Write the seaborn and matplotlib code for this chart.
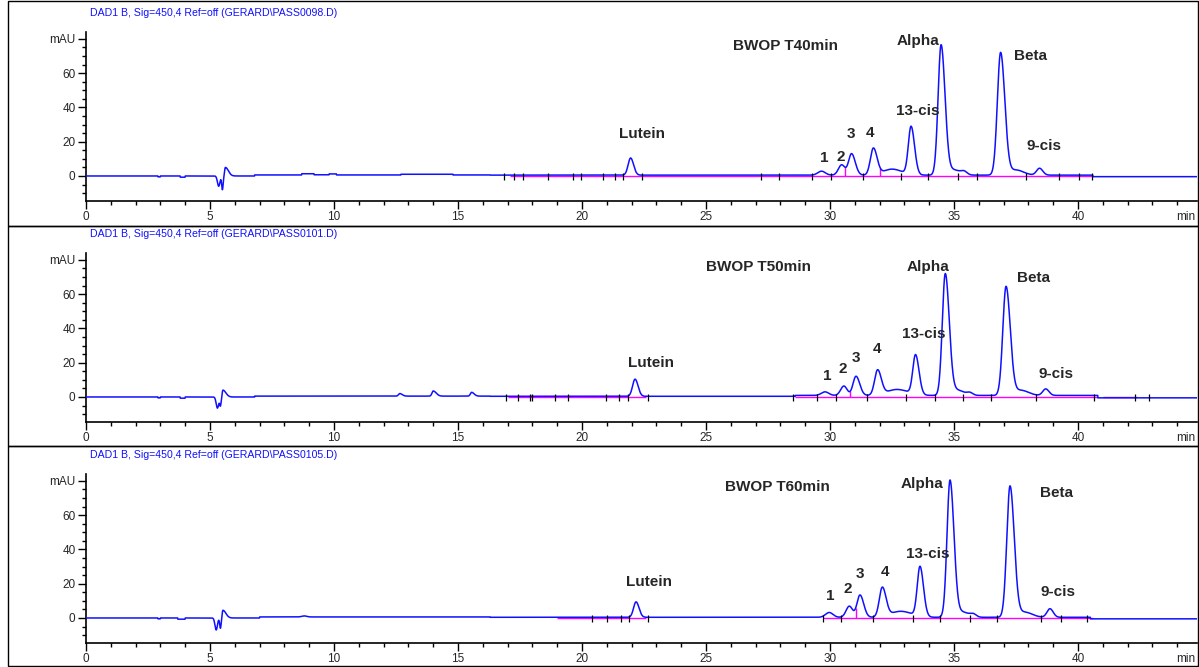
import numpy as np
import pandas as pd
import matplotlib
matplotlib.use("Agg")
import matplotlib.pyplot as plt
from matplotlib.patches import Rectangle
from matplotlib.ticker import MultipleLocator
import seaborn as sns

# ---- data ----
headers = [
    r"DAD1 B, Sig=450,4 Ref=off (GERARD\PASS0098.D)",
    r"DAD1 B, Sig=450,4 Ref=off (GERARD\PASS0101.D)",
    r"DAD1 B, Sig=450,4 Ref=off (GERARD\PASS0105.D)",
]
titles = ["BWOP T40min", "BWOP T50min", "BWOP T60min"]

# peaks: retention time (min), height (mAU), left / right sigma (min)
p1_rt = [5.35, 5.50, 5.62, 21.96, 29.66, 30.47, 30.87, 31.75, 32.50, 33.27, 34.48, 35.00, 35.41, 36.88, 37.50, 38.45]
p1_h = [-6.0, -8.0, 5.0, 10.0, 2.3, 6.0, 12.5, 15.5, 3.5, 28.0, 76.0, 3.0, 1.8, 71.5, 3.0, 4.0]
p1_sl = [0.05, 0.03, 0.03, 0.10, 0.15, 0.13, 0.12, 0.12, 0.35, 0.11, 0.12, 0.20, 0.12, 0.13, 0.25, 0.12]
p1_sr = [0.05, 0.03, 0.12, 0.12, 0.15, 0.13, 0.15, 0.15, 0.40, 0.14, 0.16, 0.25, 0.12, 0.17, 0.30, 0.13]

p2_rt = [5.30, 5.42, 5.52, 12.65, 14.0, 15.55, 22.14, 29.80, 30.56, 31.05, 31.92, 32.70, 33.45, 34.65, 35.15, 35.64, 37.10, 37.70, 38.70]
p2_h = [-6.5, -5.0, 4.0, 1.5, 3.0, 2.2, 10.0, 2.1, 5.5, 11.2, 14.5, 3.5, 23.0, 71.0, 3.0, 1.5, 63.5, 3.0, 3.8]
p2_sl = [0.05, 0.03, 0.03, 0.05, 0.05, 0.05, 0.10, 0.15, 0.13, 0.12, 0.12, 0.40, 0.11, 0.12, 0.20, 0.12, 0.13, 0.25, 0.12]
p2_sr = [0.05, 0.03, 0.12, 0.10, 0.12, 0.10, 0.12, 0.15, 0.13, 0.15, 0.15, 0.45, 0.14, 0.16, 0.25, 0.12, 0.17, 0.30, 0.13]

p3_rt = [5.25, 5.42, 5.52, 8.80, 22.18, 29.97, 30.78, 31.21, 32.11, 32.85, 33.63, 34.84, 35.35, 35.78, 37.26, 37.85, 38.87]
p3_h = [-7.0, -6.0, 4.5, 0.6, 9.0, 2.8, 6.5, 13.0, 17.0, 3.5, 29.0, 80.0, 3.0, 1.6, 76.5, 3.0, 5.0]
p3_sl = [0.05, 0.03, 0.03, 0.10, 0.10, 0.15, 0.13, 0.12, 0.12, 0.40, 0.11, 0.12, 0.20, 0.12, 0.13, 0.25, 0.12]
p3_sr = [0.05, 0.03, 0.12, 0.10, 0.12, 0.15, 0.13, 0.15, 0.15, 0.45, 0.14, 0.16, 0.25, 0.12, 0.17, 0.30, 0.13]

# baseline drift as steps: start time, level (mAU)
b1_t = [0, 2.9, 3.0, 3.8, 4.0, 6.8, 8.7, 9.2, 9.8, 10.1, 12.7, 14.8, 16.3, 40.6]
b1_v = [0, -0.5, 0, -0.7, 0, 0.6, 1.3, 0.7, 1.2, 0.6, 1.0, 0.6, 0.5, -0.4]
b2_t = [0, 2.9, 3.0, 3.8, 4.0, 6.8, 16.3, 28.6, 40.8]
b2_v = [0, -0.5, 0, -0.7, 0, 0.5, 0.4, 0.9, -0.5]
b3_t = [0, 2.9, 3.0, 3.7, 4.0, 7.0, 16.3, 40.5]
b3_v = [0, -0.5, 0, -0.7, 0, 0.6, 0.4, -0.5]

# integration baselines (magenta) and peak event marks
m1_seg = [(17.1, 40.6)]
m2_seg = [(17.0, 22.6), (28.6, 40.8), (41.0, 42.4)]
m3_seg = [(19.0, 22.6), (29.7, 40.6)]
e1_t = [16.85, 17.27, 17.63, 18.64, 19.62, 19.98, 20.86, 21.33, 21.67, 22.41, 27.2, 27.96,
        29.27, 30.03, 31.32, 32.87, 33.97, 35.15, 35.92, 37.9, 39.25, 40.06, 40.56]
e2_t = [16.94, 17.43, 17.9, 18.0, 18.9, 19.42, 20.96, 21.51, 21.86, 22.66, 28.5,
        29.46, 30.24, 31.5, 33.06, 34.23, 35.37, 36.51, 38.3, 40.64, 42.3, 42.86]
e3_t = [20.4, 21.0, 21.59, 21.91, 22.66, 29.7, 30.45, 31.74, 33.35, 34.43, 35.64,
        36.75, 38.5, 39.33, 40.35]
d1_t = [30.6, 32.02]
d2_t = [30.82]
d3_t = [31.04]

# peak labels
names = ["Lutein", "1", "2", "3", "4", "13-cis", "Alpha", "Beta", "9-cis"]
lab1_t = [22.4, 29.76, 30.44, 30.85, 31.6, 33.55, 33.55, 38.1, 38.63]
lab1_y = [24.5, 10.5, 11.0, 24.5, 25.0, 38.0, 79.0, 70.0, 17.5]
lab2_t = [22.8, 29.9, 30.5, 31.05, 31.9, 33.8, 33.95, 38.2, 39.1]
lab2_y = [19.8, 12.2, 16.3, 22.7, 28.0, 36.7, 75.8, 69.3, 13.4]
lab3_t = [22.7, 30.0, 30.7, 31.2, 32.2, 33.95, 33.7, 39.15, 39.2]
lab3_y = [21.0, 12.8, 16.9, 25.6, 26.8, 37.3, 78.0, 72.8, 15.0]
title_t = [28.2, 27.1, 27.9]
title_y = [75.8, 75.8, 76.3]

panels = [
    (p1_rt, p1_h, p1_sl, p1_sr, b1_t, b1_v, m1_seg, e1_t, d1_t, lab1_t, lab1_y),
    (p2_rt, p2_h, p2_sl, p2_sr, b2_t, b2_v, m2_seg, e2_t, d2_t, lab2_t, lab2_y),
    (p3_rt, p3_h, p3_sl, p3_sr, b3_t, b3_v, m3_seg, e3_t, d3_t, lab3_t, lab3_y),
]


def trace(t, rt, h, sl, sr, bt, bv):
    y = np.asarray(bv)[np.searchsorted(bt, t, side="right") - 1].astype(float)
    for r, a, s1, s2 in zip(rt, h, sl, sr):
        s = np.where(t < r, s1, s2)
        y += a * np.exp(-0.5 * ((t - r) / s) ** 2)
    return y


sns.set_style("ticks")
plt.rcParams["font.family"] = ["Liberation Sans", "DejaVu Sans"]

W, H = 1199, 667
fig = plt.figure(figsize=(W / 100, H / 100), dpi=100)
t = np.linspace(0, 44.8, 6000)
frames = []
for i, p in enumerate(panels):
    frames.append(pd.DataFrame({"t": t, "mAU": trace(t, *p[:6]), "panel": i}))
df = pd.concat(frames)

# panel frames (top, bottom in pixels)
frame_px = [(1, 226), (226, 446), (446, 666)]
for top, bot in frame_px:
    fig.add_artist(Rectangle((8 / W, 1 - bot / H), 1190 / W, (bot - top) / H,
                             transform=fig.transFigure, fill=False, edgecolor="black", lw=1.0))

blue = "#1010ff"
for i, p in enumerate(panels):
    rt, h, sl, sr, bt, bv, segs, ev, drops, lt, ly = p
    off = i * 221
    fig.text(90 / W, 1 - (13 + off) / H, headers[i], color=blue, fontsize=7.6, va="center")

    ax = fig.add_axes([86 / W, 1 - (201 + off) / H, 1111 / W, 169 / H])
    for a, b in segs:
        ax.hlines(0, a, b, color="#ff00ff", lw=1.0, zorder=2)
    sub = df[df["panel"] == i]
    sns.lineplot(data=sub, x="t", y="mAU", ax=ax, color=blue, lw=1.1,
                 estimator=None, sort=False, zorder=3)
    for d in drops:
        ax.vlines(d, 0, np.interp(d, sub["t"], sub["mAU"]), color="#ff00ff", lw=1.0, zorder=2)
    ax.vlines(ev, -2.5, 1.5, color="black", lw=0.9, zorder=4)

    for name, x, y in zip(names, lt, ly):
        ax.text(x, y, name, ha="center", va="center", fontsize=11, fontweight="bold")
    ax.text(title_t[i], title_y[i], titles[i], ha="center", va="center",
            fontsize=11, fontweight="bold")

    ax.set_xlim(0, 44.8)
    ax.set_ylim(-14.6, 84)
    ax.set_xlabel("")
    ax.set_ylabel("")
    ax.set_xticks(range(0, 45, 5))
    ax.xaxis.set_minor_locator(MultipleLocator(1))
    ax.set_yticks([0, 20, 40, 60, 80])
    ax.set_yticklabels(["0", "20", "40", "60", "mAU"])
    ax.yaxis.set_minor_locator(MultipleLocator(5))
    ax.tick_params(which="major", length=6, width=1, labelsize=8.5, pad=1.5, color="black")
    ax.tick_params(which="minor", length=3, width=1, color="black")
    sns.despine(ax=ax)
    for s in ("left", "bottom"):
        ax.spines[s].set_linewidth(1.2)
        ax.spines[s].set_color("black")
    ax.annotate("min", xy=(1, 0), xycoords="axes fraction", xytext=(-1, -7.5),
                textcoords="offset points", ha="right", va="top", fontsize=8.5)
    ax.patch.set_alpha(0)

fig.savefig("out.png", dpi=100)
